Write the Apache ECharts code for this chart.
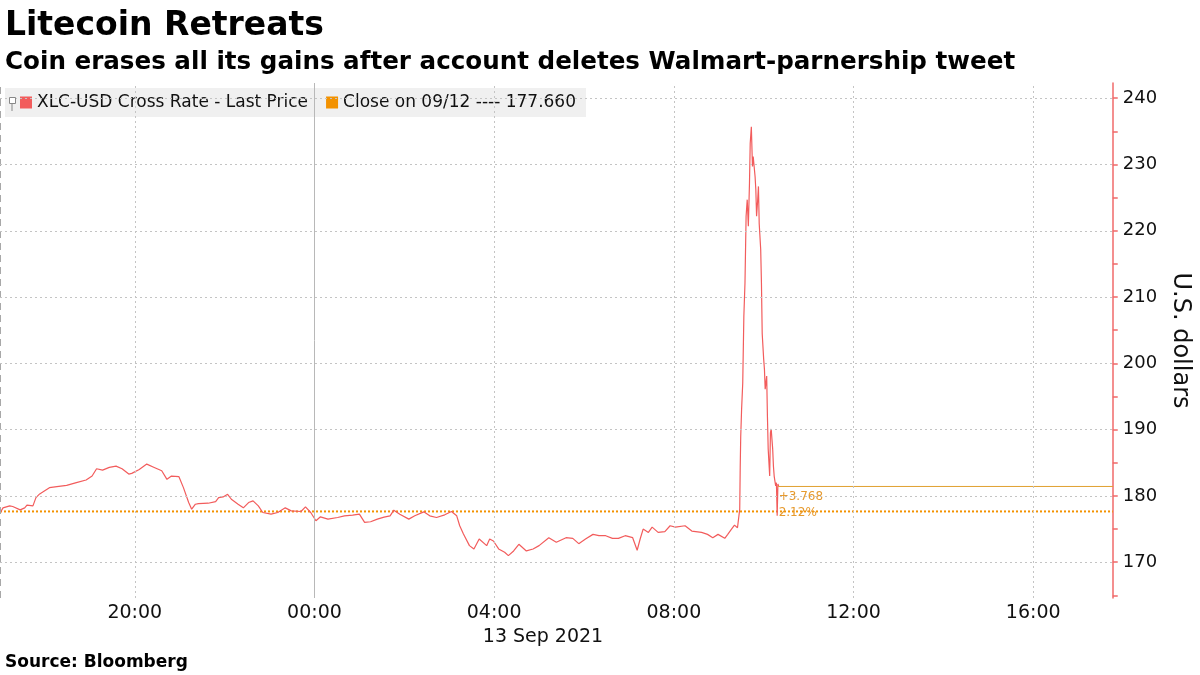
<!DOCTYPE html>
<html><head><meta charset="utf-8">
<script src="https://cdn.jsdelivr.net/npm/echarts@6/dist/echarts.min.js"></script>
<style>html,body{margin:0;padding:0;background:#fff}#c{width:1200px;height:675px}</style>
</head><body><div id="c"></div>
<script>
// ---- data (day hh:mm[:ss], Sep 2021) ----
const times = [
"12 17:00","12 17:04","12 17:13","12 17:17","12 17:27","12 17:33","12 17:36","12 17:44","12 17:48","12 17:53",
"12 18:06","12 18:16","12 18:29","12 18:42","12 18:55","12 19:03","12 19:09","12 19:17","12 19:26","12 19:35",
"12 19:43","12 19:52","12 19:56","12 20:06","12 20:16","12 20:26","12 20:36","12 20:43","12 20:49","12 20:59",
"12 21:05","12 21:12","12 21:16","12 21:21","12 21:25","12 21:38","12 21:48","12 21:52","12 21:58","12 22:04",
"12 22:09","12 22:18","12 22:25","12 22:32","12 22:38","12 22:45","12 22:51","12 23:02","12 23:11","12 23:21",
"12 23:29","12 23:42","12 23:48","12 23:55","13 00:02","13 00:08","13 00:18","13 00:31","13 00:40","13 00:51",
"13 01:00","13 01:07","13 01:15","13 01:24","13 01:33","13 01:41","13 01:46","13 01:54","13 02:06","13 02:14",
"13 02:26","13 02:34","13 02:43","13 02:54","13 03:03","13 03:10","13 03:14","13 03:19","13 03:27","13 03:33",
"13 03:40","13 03:50","13 03:54","13 03:59","13 04:06","13 04:14","13 04:19","13 04:26","13 04:33","13 04:43",
"13 04:52","13 05:00","13 05:13","13 05:23","13 05:36","13 05:45","13 05:53","13 06:02","13 06:12","13 06:20",
"13 06:29","13 06:38","13 06:46","13 06:55","13 07:05","13 07:11","13 07:15","13 07:19","13 07:26","13 07:31",
"13 07:39","13 07:48","13 07:55","13 08:02","13 08:15","13 08:24","13 08:37","13 08:45","13 08:52","13 08:59",
"13 09:08","13 09:12","13 09:17","13 09:21","13 09:25",
"13 09:28:00","13 09:28:40","13 09:29:20","13 09:30:30","13 09:32:00","13 09:33:30","13 09:35:00","13 09:36:30","13 09:38:00","13 09:39:30",
"13 09:41:00","13 09:42:00","13 09:43:30","13 09:45:00","13 09:46:00","13 09:48:30","13 09:49:30","13 09:50:30","13 09:52:00","13 09:53:00",
"13 09:54:00","13 09:56:00","13 09:57:00","13 09:58:00","13 10:00:00","13 10:01:00","13 10:02:00","13 10:04:00","13 10:05:00","13 10:06:00",
"13 10:08:00","13 10:09:00","13 10:10:00","13 10:12:00","13 10:13:00","13 10:14:00","13 10:16:00","13 10:17:00","13 10:18:00","13 10:19:00",
"13 10:20:00"
];
const prices = [
177.4,178.2,178.5,178.4,177.9,178.2,178.6,178.5,179.75,180.3,
181.25,181.4,181.6,182.0,182.4,183.0,184.1,183.9,184.3,184.5,
184.1,183.3,183.4,184.0,184.8,184.3,183.8,182.5,183.0,182.9,
181.25,179.0,178.0,178.75,178.85,178.9,179.15,179.75,179.85,180.25,
179.5,178.75,178.2,179.0,179.25,178.5,177.5,177.25,177.5,178.2,
177.75,177.65,178.35,177.5,176.25,176.85,176.5,176.75,177.0,177.1,
177.25,176.0,176.1,176.5,176.8,177.0,177.85,177.25,176.5,177.0,
177.6,177.0,176.75,177.15,177.65,177.0,175.5,174.25,172.5,172.0,
173.5,172.5,173.5,173.2,172.0,171.5,171.0,171.7,172.7,171.7,
172.0,172.5,173.7,173.0,173.7,173.6,172.8,173.5,174.2,174.0,
174.0,173.6,173.6,174.0,173.7,171.8,173.5,175.0,174.5,175.3,
174.5,174.6,175.5,175.3,175.5,174.7,174.5,174.2,173.7,174.2,
173.6,174.2,175.0,175.6,175.2,
178.0,184.5,189.0,193.1,197.0,207.1,212.1,222.2,224.7,220.7,
227.1,233.2,235.7,229.7,231.2,228.2,226.2,222.2,224.7,226.7,
221.1,217.2,212.1,204.5,200.6,199.1,196.1,198.1,192.0,187.1,
183.0,189.5,190.1,187.1,184.5,183.0,181.5,182.0,177.0,181.8,
181.428
];
const closePrev = 177.66;
const xTickHours = [-4, 0, 4, 8, 12, 16];
const yTicks = [170, 180, 190, 200, 210, 220, 230, 240];
const yAllTicks = [165, 170, 175, 180, 185, 190, 195, 200, 205, 210, 215, 220, 225, 230, 235, 240];
const xMin = -7, xMax = 17.77, yMin = 164.6, yMax = 242.3;

// ---- build ----
function toHours(s) {
  const [d, t] = s.split(' ');
  const p = t.split(':').map(Number);
  return (Number(d) - 13) * 24 + p[0] + p[1] / 60 + (p[2] || 0) / 3600;
}
const lineData = times.map((t, i) => [toHours(t), prices[i]]);
const last = lineData[lineData.length - 1];
const chg = last[1] - closePrev;
const pct = chg / closePrev * 100;
const FONT = 'DejaVu Sans';
const RED = '#f25c5c';
const ORANGE = '#f39200';
const GOLD = '#e0a030';
const nameMain = 'XLC-USD Cross Rate - Last Price';
const nameClose = 'Close on 09/12 ---- ' + closePrev.toFixed(3);

const gridLineStyle = { type: [2, 3], color: '#c4c4c4', width: 1 };

const chart = echarts.init(document.getElementById('c'), null, { renderer: 'canvas' });
chart.setOption({
  animation: false,
  textStyle: { fontFamily: FONT },
  title: {
    text: 'Litecoin Retreats',
    subtext: 'Coin erases all its gains after account deletes Walmart-parnership tweet',
    left: 0, top: 2, itemGap: 4,
    textStyle: { fontFamily: FONT, fontSize: 33, fontWeight: 'bold', color: '#000', lineHeight: 38 },
    subtextStyle: { fontFamily: FONT, fontSize: 24.6, fontWeight: 'bold', color: '#000', lineHeight: 28 }
  },
  legend: {
    data: [{ name: nameMain }, { name: nameClose }],
    left: 5, top: 88,
    backgroundColor: '#f0f0f0',
    padding: [6, 10, 6, 15],
    icon: 'rect', itemWidth: 12, itemHeight: 12, itemGap: 18,
    textStyle: { fontFamily: FONT, fontSize: 17, color: '#111' },
    selectedMode: false
  },
  grid: { left: 0, right: 80, top: 83, bottom: 77 },
  xAxis: {
    type: 'value', min: xMin, max: xMax,
    axisLine: { show: false, onZero: false },
    axisTick: { show: false },
    splitLine: { show: false },
    axisLabel: {
      customValues: xTickHours,
      formatter: v => String(((v % 24) + 24) % 24).padStart(2, '0') + ':00',
      fontSize: 19, color: '#111', margin: 6, fontFamily: FONT
    }
  },
  yAxis: {
    type: 'value', position: 'right', min: yMin, max: yMax,
    name: 'U.S. dollars', nameLocation: 'middle', nameRotate: -90, nameGap: 54,
    nameTextStyle: { fontSize: 24, color: '#111', fontFamily: FONT },
    axisLine: { show: true, onZero: false, lineStyle: { color: '#f06a6a', width: 1.5 } },
    axisTick: { show: true, customValues: yAllTicks, length: 5, lineStyle: { color: '#f06a6a', width: 1.5 } },
    splitLine: { show: false },
    axisLabel: { customValues: yTicks, fontSize: 18, color: '#111', margin: 10, fontFamily: FONT }
  },
  series: [
    {
      name: 'grid', type: 'line', data: [[xMin, yMin]], symbol: 'none', silent: true, z: 1,
      lineStyle: { opacity: 0 },
      markLine: {
        silent: true, symbol: ['none', 'none'], label: { show: false }, animation: false,
        lineStyle: gridLineStyle,
        data: [
          { xAxis: xMin, lineStyle: { type: [7, 5], color: '#a8a8a8', width: 1 } },
          ...xTickHours.map(v => v === 0
            ? { xAxis: v, lineStyle: { type: 'solid', color: '#b8b8b8', width: 1 } }
            : { xAxis: v }),
          ...yTicks.map(v => ({ yAxis: v }))
        ]
      }
    },
    {
      name: nameClose, type: 'line', z: 2,
      data: [[xMin, closePrev], [xMax, closePrev]],
      symbol: 'none', silent: true,
      itemStyle: { color: ORANGE },
      lineStyle: { color: ORANGE, width: 2, type: [2, 2] }
    },
    {
      name: nameMain, type: 'line', z: 3,
      data: lineData, symbol: 'none', sampling: 'none',
      itemStyle: { color: RED },
      lineStyle: { color: RED, width: 1.2 }
    },
    {
      name: 'lastPrice', type: 'line', z: 4,
      symbol: 'circle', symbolSize: 1, showSymbol: true, silent: true,
      itemStyle: { color: GOLD },
      lineStyle: { color: GOLD, width: 1 },
      label: { show: false },
      labelLayout: { hideOverlap: false },
      data: [
        {
          value: [last[0], last[1]],
          label: {
            show: true, position: 'bottom', distance: 2, align: 'left', verticalAlign: 'top',
            offset: [2, 0],
            formatter: '+' + chg.toFixed(3) + '\n' + pct.toFixed(2) + '%',
            color: '#e69a2e', fontSize: 12, lineHeight: 16, fontFamily: FONT
          }
        },
        { value: [xMax, last[1]] }
      ]
    }
  ],
  graphic: [
    { type: 'rect', left: 9, top: 97, shape: { width: 6, height: 6 }, style: { fill: '#fff', stroke: '#888', lineWidth: 1 }, z: 100 },
    { type: 'line', shape: { x1: 12, y1: 103, x2: 12, y2: 111 }, style: { stroke: '#888', lineWidth: 1 }, z: 100 },
    { type: 'text', x: 543, y: 637, style: { text: '13 Sep 2021', fontSize: 19, fontFamily: FONT, fill: '#111', textAlign: 'center', textVerticalAlign: 'middle' } },
    { type: 'text', x: 5, y: 663, style: { text: 'Source: Bloomberg', fontSize: 17, fontWeight: 'bold', fontFamily: FONT, fill: '#000', textAlign: 'left', textVerticalAlign: 'middle' } }
  ]
});
</script>
</body></html>
